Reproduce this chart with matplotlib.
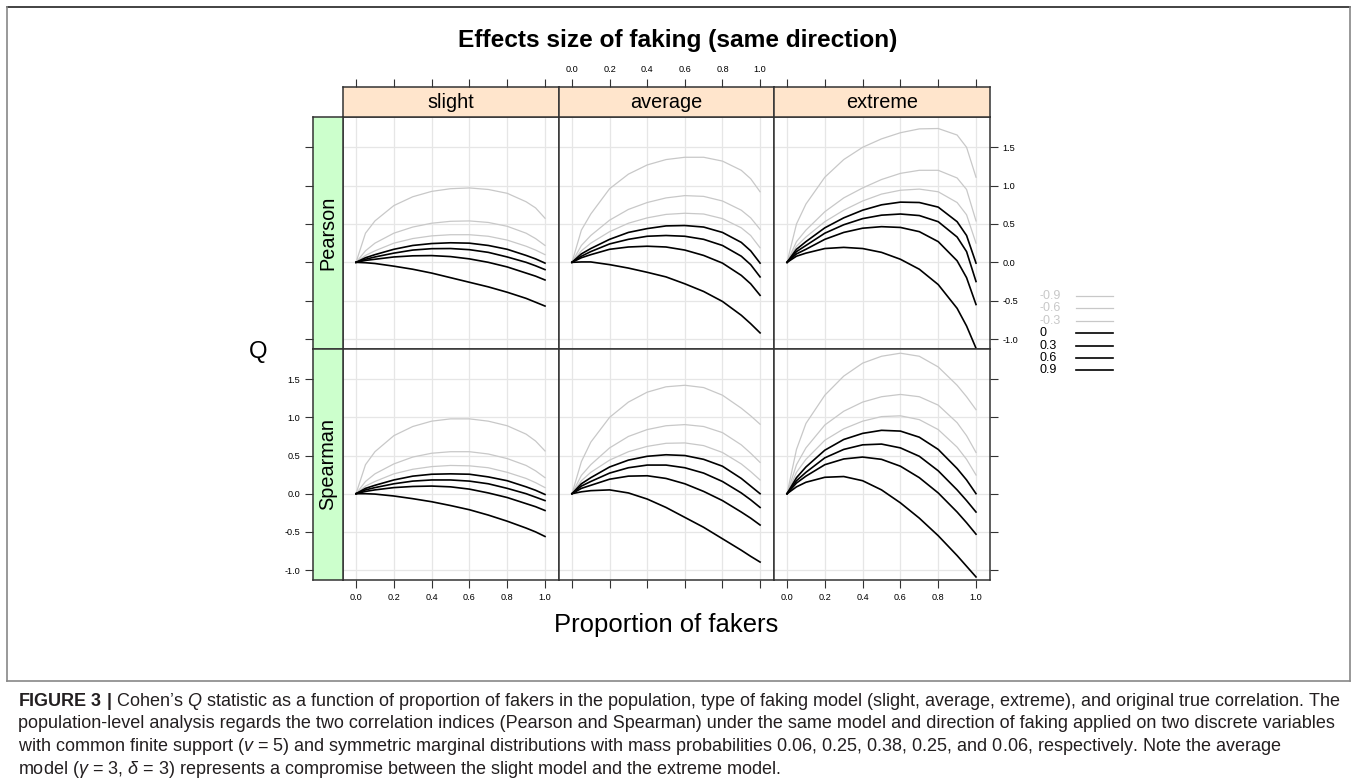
import matplotlib
matplotlib.use("Agg")
import matplotlib.pyplot as plt
from matplotlib import font_manager
from matplotlib.lines import Line2D

# proportion of fakers at which the curves were read
PROPORTION = [0, 0.05, 0.1, 0.2, 0.3, 0.4, 0.5, 0.6, 0.7, 0.8, 0.9, 0.95, 1.0]
CORRELATIONS = [-0.9, -0.6, -0.3, 0, 0.3, 0.6, 0.9]
MODELS = ["slight", "average", "extreme"]
INDICES = ["Pearson", "Spearman"]
XTICKS = [0.0, 0.2, 0.4, 0.6, 0.8, 1.0]
YTICKS = [-1.0, -0.5, 0.0, 0.5, 1.0, 1.5]

# Cohen's Q, one row per true correlation (same order as CORRELATIONS)
pearson_slight = [
    [0, 0.38, 0.54, 0.74, 0.855, 0.925, 0.96, 0.97, 0.95, 0.90, 0.79, 0.71, 0.575],
    [0, 0.15, 0.25, 0.38, 0.46, 0.51, 0.535, 0.54, 0.52, 0.47, 0.38, 0.31, 0.22],
    [0, 0.09, 0.15, 0.25, 0.31, 0.345, 0.36, 0.36, 0.34, 0.29, 0.21, 0.16, 0.10],
    [0, 0.06, 0.10, 0.17, 0.22, 0.245, 0.255, 0.25, 0.22, 0.17, 0.09, 0.045, -0.01],
    [0, 0.04, 0.07, 0.12, 0.16, 0.178, 0.18, 0.165, 0.13, 0.07, 0.0, -0.045, -0.095],
    [0, 0.025, 0.04, 0.07, 0.085, 0.088, 0.075, 0.045, 0.0, -0.06, -0.14, -0.18, -0.23],
    [0, -0.005, -0.015, -0.05, -0.09, -0.14, -0.2, -0.26, -0.32, -0.39, -0.47, -0.52, -0.57],
]
pearson_average = [
    [0, 0.42, 0.63, 0.96, 1.15, 1.27, 1.34, 1.37, 1.37, 1.32, 1.20, 1.09, 0.92],
    [0, 0.22, 0.35, 0.55, 0.69, 0.78, 0.84, 0.87, 0.86, 0.80, 0.68, 0.58, 0.43],
    [0, 0.15, 0.25, 0.40, 0.51, 0.58, 0.625, 0.64, 0.63, 0.57, 0.45, 0.35, 0.19],
    [0, 0.11, 0.18, 0.30, 0.39, 0.44, 0.475, 0.48, 0.46, 0.39, 0.26, 0.15, -0.01],
    [0, 0.08, 0.14, 0.24, 0.30, 0.34, 0.35, 0.34, 0.30, 0.22, 0.08, -0.03, -0.19],
    [0, 0.06, 0.10, 0.17, 0.20, 0.21, 0.20, 0.16, 0.09, -0.01, -0.17, -0.28, -0.43],
    [0, 0.005, 0.005, -0.03, -0.075, -0.13, -0.19, -0.28, -0.38, -0.51, -0.69, -0.80, -0.92],
]
pearson_extreme = [
    [0, 0.5, 0.76, 1.11, 1.34, 1.50, 1.61, 1.69, 1.74, 1.745, 1.66, 1.50, 1.11],
    [0, 0.27, 0.42, 0.66, 0.84, 0.97, 1.08, 1.16, 1.2, 1.2, 1.1, 0.95, 0.54],
    [0, 0.21, 0.33, 0.53, 0.68, 0.80, 0.89, 0.94, 0.955, 0.92, 0.78, 0.62, 0.25],
    [0, 0.17, 0.27, 0.45, 0.58, 0.68, 0.75, 0.785, 0.78, 0.72, 0.53, 0.35, -0.01],
    [0, 0.14, 0.22, 0.38, 0.49, 0.57, 0.615, 0.63, 0.61, 0.53, 0.33, 0.14, -0.25],
    [0, 0.11, 0.17, 0.30, 0.39, 0.445, 0.465, 0.455, 0.40, 0.27, 0.02, -0.2, -0.55],
    [0, 0.08, 0.12, 0.18, 0.195, 0.18, 0.13, 0.04, -0.09, -0.29, -0.6, -0.83, -1.12],
]
spearman_slight = [
    [0, 0.38, 0.55, 0.76, 0.88, 0.95, 0.98, 0.98, 0.95, 0.89, 0.78, 0.69, 0.56],
    [0, 0.16, 0.26, 0.39, 0.48, 0.53, 0.55, 0.55, 0.52, 0.46, 0.37, 0.30, 0.21],
    [0, 0.10, 0.16, 0.26, 0.32, 0.355, 0.37, 0.365, 0.34, 0.28, 0.20, 0.145, 0.08],
    [0, 0.07, 0.11, 0.18, 0.23, 0.255, 0.26, 0.255, 0.22, 0.17, 0.09, 0.045, -0.01],
    [0, 0.05, 0.08, 0.13, 0.165, 0.18, 0.18, 0.165, 0.13, 0.07, 0.0, -0.045, -0.09],
    [0, 0.03, 0.05, 0.08, 0.095, 0.10, 0.09, 0.06, 0.01, -0.05, -0.13, -0.17, -0.22],
    [0, 0.0, -0.005, -0.03, -0.065, -0.105, -0.155, -0.21, -0.28, -0.36, -0.45, -0.50, -0.56],
]
spearman_average = [
    [0, 0.42, 0.675, 1.0, 1.2, 1.33, 1.40, 1.42, 1.39, 1.29, 1.12, 1.02, 0.91],
    [0, 0.24, 0.38, 0.60, 0.75, 0.84, 0.89, 0.905, 0.88, 0.80, 0.64, 0.53, 0.41],
    [0, 0.17, 0.28, 0.44, 0.55, 0.62, 0.66, 0.665, 0.63, 0.54, 0.39, 0.29, 0.18],
    [0, 0.13, 0.21, 0.35, 0.44, 0.49, 0.51, 0.50, 0.45, 0.36, 0.20, 0.10, 0.0],
    [0, 0.10, 0.16, 0.27, 0.34, 0.375, 0.375, 0.34, 0.27, 0.16, 0.01, -0.08, -0.18],
    [0, 0.07, 0.11, 0.19, 0.23, 0.235, 0.20, 0.13, 0.03, -0.09, -0.24, -0.32, -0.41],
    [0, 0.025, 0.04, 0.05, 0.01, -0.07, -0.18, -0.31, -0.44, -0.59, -0.74, -0.82, -0.895],
]
spearman_extreme = [
    [0, 0.58, 0.92, 1.29, 1.54, 1.71, 1.80, 1.84, 1.80, 1.66, 1.42, 1.27, 1.10],
    [0, 0.38, 0.6, 0.9, 1.08, 1.2, 1.27, 1.30, 1.27, 1.16, 0.93, 0.76, 0.54],
    [0, 0.28, 0.45, 0.7, 0.85, 0.95, 1.01, 1.02, 0.97, 0.84, 0.61, 0.45, 0.245],
    [0, 0.21, 0.35, 0.57, 0.71, 0.79, 0.83, 0.82, 0.74, 0.58, 0.33, 0.18, 0.0],
    [0, 0.17, 0.28, 0.47, 0.58, 0.64, 0.65, 0.6, 0.49, 0.3, 0.05, -0.09, -0.24],
    [0, 0.14, 0.23, 0.38, 0.455, 0.48, 0.45, 0.36, 0.21, 0.01, -0.24, -0.38, -0.53],
    [0, 0.09, 0.15, 0.215, 0.225, 0.17, 0.05, -0.12, -0.32, -0.55, -0.81, -0.95, -1.09],
]

PANELS = [
    [pearson_slight, pearson_average, pearson_extreme],
    [spearman_slight, spearman_average, spearman_extreme],
]

CAPTION = [
    r"$\mathbf{FIGURE\ 3\ |}$ Cohen’s $Q$ statistic as a function of proportion of fakers in the population, "
    r"type of faking model (slight, average, extreme), and original true correlation. The",
    "population-level analysis regards the two correlation indices (Pearson and Spearman) under the same "
    "model and direction of faking applied on two discrete variables",
    r"with common finite support ($v$ = 5) and symmetric marginal distributions with mass probabilities "
    "0.06, 0.25, 0.38, 0.25, and 0.06, respectively. Note the average",
    r"model ($\gamma$ = 3, $\delta$ = 3) represents a compromise between the slight model and the extreme model.",
]

# lattice-looking fonts: narrow sans if we have it, otherwise shrink regular sans
names = {f.name for f in font_manager.fontManager.ttflist}
if "Liberation Sans Narrow" in names:
    NARROW, SQ = "Liberation Sans Narrow", 1.0
else:
    NARROW, SQ = "Liberation Sans", 0.82

plt.rcParams["font.family"] = ["Liberation Sans", "DejaVu Sans"]
plt.rcParams["axes.unicode_minus"] = False
plt.rcParams["mathtext.fontset"] = "custom"
plt.rcParams["mathtext.rm"] = "Liberation Sans"
plt.rcParams["mathtext.it"] = "Liberation Sans:italic"
plt.rcParams["mathtext.bf"] = "Liberation Sans:bold"

W, H = 1357, 780
GRAY = "#c8c8c8"
EDGE = "#333333"
XLIM = (-0.069, 1.074)
YLIM = (-1.13, 1.895)
COL_X = [343, 559, 774, 990]
ROW_Y = [117, 349, 580]


def box(x0, y0, x1, y1):
    return [x0 / W, 1 - y1 / H, (x1 - x0) / W, (y1 - y0) / H]


def fx(px):
    return px / W


def fy(py):
    return 1 - py / H


fig = plt.figure(figsize=(W / 100, H / 100), dpi=100)

tick_kw = dict(direction="out", length=6, width=0.8, color=EDGE, labelsize=8 * SQ, pad=3)

for r in range(2):
    for c in range(3):
        ax = fig.add_axes(box(COL_X[c], ROW_Y[r], COL_X[c + 1], ROW_Y[r + 1]))
        ax.set_xlim(*XLIM)
        ax.set_ylim(*YLIM)
        ax.grid(True, color="#e6e6e6", linewidth=0.9)
        ax.set_axisbelow(True)
        for corr, vals in zip(CORRELATIONS, PANELS[r][c]):
            if corr < 0:
                ax.plot(PROPORTION, vals, color=GRAY, linewidth=0.9)
            else:
                ax.plot(PROPORTION, vals, color="black", linewidth=1.2)
        for s in ax.spines.values():
            s.set_color(EDGE)
            s.set_linewidth(1.1)
        ax.set_xticks(XTICKS)
        ax.set_yticks(YTICKS)
        ax.set_xticklabels([f"{t:.1f}" for t in XTICKS], family=NARROW)
        ax.set_yticklabels([f"{t:.1f}" for t in YTICKS], family=NARROW)
        ax.tick_params(**tick_kw)
        ax.tick_params(axis="x", bottom=(r == 1), labelbottom=(r == 1 and c != 1),
                       top=False, labeltop=False)
        ax.tick_params(axis="y", left=False, labelleft=False,
                       right=(c == 2), labelright=(c == 2 and r == 0))

# top strips (model)
for c in range(3):
    sax = fig.add_axes(box(COL_X[c], 87, COL_X[c + 1], 117))
    sax.set_facecolor("#ffe5cc")
    sax.set_xlim(*XLIM)
    sax.set_ylim(0, 1)
    sax.set_yticks([])
    sax.set_xticks(XTICKS)
    sax.set_xticklabels([f"{t:.1f}" for t in XTICKS], family=NARROW)
    sax.tick_params(**tick_kw)
    sax.tick_params(axis="x", bottom=False, labelbottom=False, top=True, labeltop=(c == 1))
    for s in sax.spines.values():
        s.set_color(EDGE)
        s.set_linewidth(1.1)
    sax.text(0.5, 0.47, MODELS[c], transform=sax.transAxes, ha="center", va="center",
             fontsize=17.5 * SQ, family=NARROW)

# left strips (index)
for r in range(2):
    lax = fig.add_axes(box(313, ROW_Y[r], 343, ROW_Y[r + 1]))
    lax.set_facecolor("#ccffcc")
    lax.set_ylim(*YLIM)
    lax.set_xlim(0, 1)
    lax.set_xticks([])
    lax.set_yticks(YTICKS)
    lax.set_yticklabels([f"{t:.1f}" for t in YTICKS], family=NARROW)
    lax.tick_params(**tick_kw)
    lax.tick_params(axis="y", left=True, labelleft=(r == 1), right=False)
    for s in lax.spines.values():
        s.set_color(EDGE)
        s.set_linewidth(1.1)
    lax.text(0.5, 0.5, INDICES[r], transform=lax.transAxes, ha="center", va="center",
             rotation=90, fontsize=17.5 * SQ, family=NARROW)

# titles and axis labels
fig.text(fx(678), fy(40), "Effects size of faking (same direction)", ha="center", va="center",
         fontsize=21.5 * SQ, fontweight="bold", family=NARROW)
fig.text(fx(666), fy(625), "Proportion of fakers", ha="center", va="center",
         fontsize=22.5 * SQ, family=NARROW)
fig.text(fx(258), fy(352), "Q", ha="center", va="center", fontsize=21 * SQ, family=NARROW)

# legend
for i, corr in enumerate(CORRELATIONS):
    y = fy(296 + 12.4 * i)
    col = GRAY if corr < 0 else "black"
    fig.text(fx(1040), y, f"{corr:g}", ha="left", va="center", color=col,
             fontsize=11 * SQ, family=NARROW)
    fig.add_artist(Line2D([fx(1076), fx(1113)], [y, y], color=col,
                          linewidth=0.9 if corr < 0 else 1.2))

# outer frame of the figure box
fig.add_artist(Line2D([fx(7), fx(1350)], [fy(7), fy(7)], color="#222222", linewidth=1.2))
fig.add_artist(Line2D([fx(7), fx(7)], [fy(7), fy(681)], color="#888888", linewidth=1.2))
fig.add_artist(Line2D([fx(1350), fx(1350)], [fy(7), fy(681)], color="#888888", linewidth=1.2))
fig.add_artist(Line2D([fx(7), fx(1350)], [fy(681), fy(681)], color="#888888", linewidth=1.2))

# caption
for i, line in enumerate(CAPTION):
    fig.text(fx(18), fy(701 + 22.7 * i), line, ha="left", va="center", fontsize=13,
             color="#231f20")

fig.savefig("out.png", dpi=100)
